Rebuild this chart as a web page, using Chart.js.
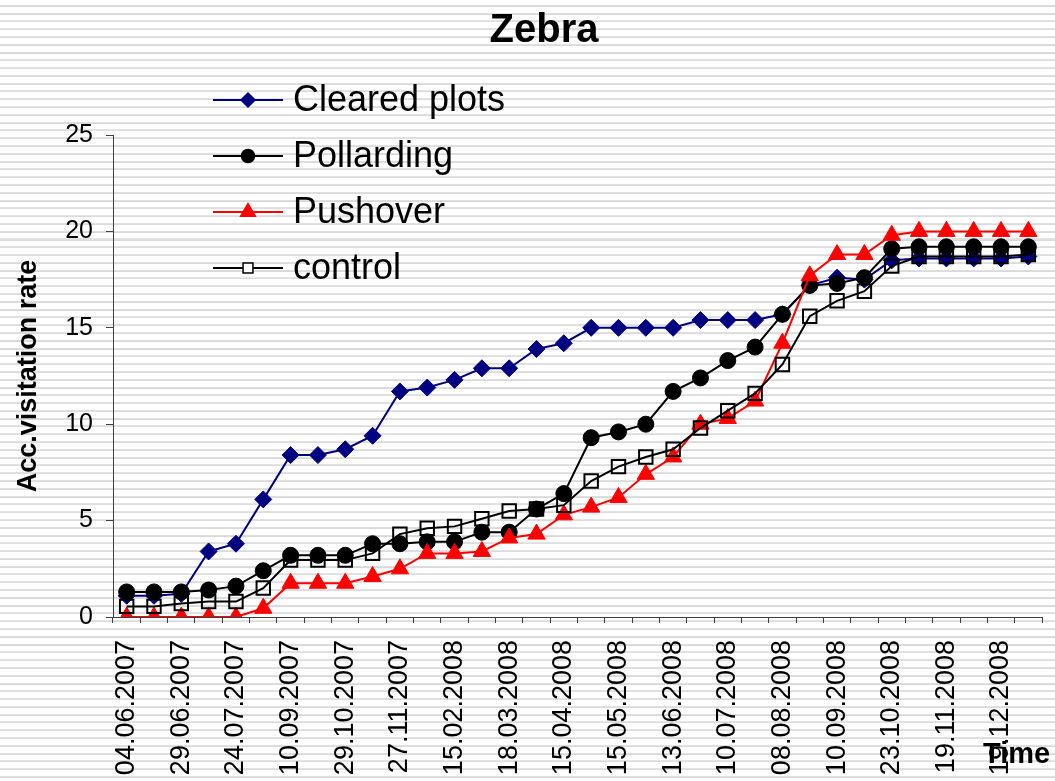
<!DOCTYPE html>
<html>
<head>
<meta charset="utf-8">
<title>Zebra</title>
<script src="https://cdn.jsdelivr.net/npm/chart.js@4/dist/chart.umd.min.js"></script>
<style>
  html, body {
    margin: 0;
    padding: 0;
  }
  body {
    width: 1055px;
    height: 781px;
    overflow: hidden;
    /* striped page background, like the source image */
    background: repeating-linear-gradient(180deg,
      #ffffff 0px, #ffffff 4.8px,
      #e4e4e4 4.8px, #d8d8d8 6.8px,
      #ffffff 6.8px, #ffffff 7.79px);
  }
  #wrap {
    position: relative;
    width: 1055px;
    height: 781px;
  }
</style>
</head>
<body>
<div id="wrap"><canvas id="chart"></canvas></div>
<script>
// Tick labels shown under every other sampling date
const tickDates = [
  '04.06.2007', '29.06.2007', '24.07.2007', '10.09.2007', '29.10.2007',
  '27.11.2007', '15.02.2008', '18.03.2008', '15.04.2008', '15.05.2008',
  '13.06.2008', '10.07.2008', '08.08.2008', '10.09.2008', '23.10.2008',
  '19.11.2008', '19.12.2008'
];
// 34 sampling dates, only every second one is labelled
const categories = tickDates.flatMap(d => [d, '']);

const clearedPlots = [1.1, 1.1, 1.2, 3.4, 3.8, 6.1, 8.4, 8.4, 8.7, 9.4,
  11.7, 11.9, 12.3, 12.9, 12.9, 13.9, 14.2, 15.0, 15.0, 15.0,
  15.0, 15.4, 15.4, 15.4, 15.7, 17.2, 17.6, 17.5, 18.5, 18.6,
  18.6, 18.6, 18.6, 18.7];

const pollarding = [1.3, 1.3, 1.3, 1.4, 1.6, 2.4, 3.2, 3.2, 3.2, 3.8,
  3.8, 3.9, 3.9, 4.4, 4.4, 5.6, 6.4, 9.3, 9.6, 10.0,
  11.7, 12.4, 13.3, 14.0, 15.7, 17.2, 17.3, 17.6, 19.1, 19.2,
  19.2, 19.2, 19.2, 19.2];

const pushover = [0, 0, 0, 0, 0, 0.45, 1.75, 1.75, 1.75, 2.1,
  2.5, 3.3, 3.3, 3.4, 4.1, 4.3, 5.3, 5.7, 6.2, 7.4,
  8.3, 10.0, 10.3, 11.2, 14.2, 17.7, 18.8, 18.8, 19.8, 20.0,
  20.0, 20.0, 20.0, 20.0];

const control = [0.55, 0.55, 0.7, 0.8, 0.8, 1.5, 2.95, 2.95, 2.95, 3.3,
  4.3, 4.6, 4.7, 5.1, 5.5, 5.6, 5.8, 7.05, 7.8, 8.3,
  8.7, 9.8, 10.7, 11.6, 13.1, 15.6, 16.4, 16.9, 18.2, 18.7,
  18.7, 18.7, 18.7, 18.8];

const yTicks = [0, 5, 10, 15, 20, 25];

const FONT = "'Liberation Sans', Arial, Helvetica, sans-serif";

/**
 * Draw a single marker shape (used for the legend)
 */
function drawMarker(ctx, style, x, y, r, fill, stroke, lw) {
  ctx.save();
  ctx.beginPath();
  if (style === 'rectRot') {
    ctx.moveTo(x, y - r);
    ctx.lineTo(x + r, y);
    ctx.lineTo(x, y + r);
    ctx.lineTo(x - r, y);
    ctx.closePath();
  } else if (style === 'circle') {
    ctx.arc(x, y, r, 0, Math.PI * 2);
  } else if (style === 'triangle') {
    ctx.moveTo(x, y - r);
    ctx.lineTo(x + r * 0.866, y + r * 0.5);
    ctx.lineTo(x - r * 0.866, y + r * 0.5);
    ctx.closePath();
  } else {
    const s = r * Math.SQRT1_2;
    ctx.rect(x - s, y - s, 2 * s, 2 * s);
  }
  ctx.fillStyle = fill;
  ctx.fill();
  ctx.lineWidth = lw;
  ctx.strokeStyle = stroke;
  ctx.stroke();
  ctx.restore();
}

// Title, "Time" label and the in-plot legend
const decorPlugin = {
  id: 'decor',
  afterDraw(chart) {
    const ctx = chart.ctx;
    ctx.save();
    ctx.fillStyle = '#000';
    ctx.textBaseline = 'alphabetic';

    ctx.font = 'bold 40px ' + FONT;
    ctx.textAlign = 'center';
    ctx.fillText('Zebra', 544, 42);

    ctx.font = 'bold 29px ' + FONT;
    ctx.textAlign = 'left';
    ctx.fillText('Time', 983, 763);

    // legend
    const rows = [100, 156, 212, 268];
    const sizes = [7, 6.5, 8.5, 7];
    ctx.font = '36px ' + FONT;
    ctx.textBaseline = 'middle';
    chart.data.datasets.forEach((ds, i) => {
      const y = rows[i];
      ctx.beginPath();
      ctx.moveTo(213, y);
      ctx.lineTo(283, y);
      ctx.lineWidth = 2;
      ctx.strokeStyle = ds.borderColor;
      ctx.stroke();
      drawMarker(ctx, ds.pointStyle, 248, y, sizes[i],
        ds.pointBackgroundColor === 'rgba(0,0,0,0)' ? '#ffffff' : ds.pointBackgroundColor,
        ds.pointBorderColor, 1.5);
      ctx.fillStyle = '#000';
      ctx.fillText(ds.label, 293, y + 1);
    });
    ctx.restore();
  }
};

const ctx = document.getElementById('chart').getContext('2d');
new Chart(ctx, {
  type: 'line',
  data: {
    labels: categories,
    datasets: [
      {
        label: 'Cleared plots',
        data: clearedPlots,
        borderColor: '#000080',
        borderWidth: 2,
        pointStyle: 'rectRot',
        pointRadius: 8.5,
        pointBackgroundColor: '#000080',
        pointBorderColor: '#000080',
        pointBorderWidth: 1,
        order: 4
      },
      {
        label: 'Pollarding',
        data: pollarding,
        borderColor: '#000000',
        borderWidth: 2,
        pointStyle: 'circle',
        pointRadius: 8,
        pointBackgroundColor: '#000000',
        pointBorderColor: '#000000',
        pointBorderWidth: 1,
        order: 3
      },
      {
        label: 'Pushover',
        data: pushover,
        borderColor: '#ff0000',
        borderWidth: 2,
        pointStyle: 'triangle',
        pointRadius: 10,
        pointBackgroundColor: '#ff0000',
        pointBorderColor: '#ff0000',
        pointBorderWidth: 1,
        order: 2
      },
      {
        label: 'control',
        data: control,
        borderColor: '#000000',
        borderWidth: 2,
        pointStyle: 'rect',
        pointRadius: 9.5,
        pointBackgroundColor: 'rgba(0,0,0,0)',
        pointBorderColor: '#000000',
        pointBorderWidth: 2,
        order: 1
      }
    ]
  },
  options: {
    responsive: true,
    maintainAspectRatio: false,
    animation: false,
    layout: {
      padding: { top: 135, right: 13, left: 0, bottom: 0 }
    },
    elements: {
      line: { tension: 0 }
    },
    plugins: {
      legend: { display: false },
      title: { display: false },
      tooltip: { enabled: false }
    },
    scales: {
      x: {
        type: 'category',
        offset: true,
        grid: {
          offset: true,
          drawOnChartArea: false,
          drawTicks: true,
          tickLength: 6,
          color: '#404040'
        },
        border: { color: '#404040', width: 1 },
        ticks: {
          autoSkip: false,
          maxRotation: 90,
          minRotation: 90,
          padding: 17,
          color: '#000',
          font: { family: FONT, size: 27 }
        },
        afterFit(scale) {
          scale.height = 164;
          // no extra side padding for the rotated labels
          scale.paddingLeft = 0;
          scale.paddingRight = 0;
        }
      },
      y: {
        min: 0,
        max: 25,
        afterBuildTicks(scale) {
          scale.ticks = yTicks.map(v => ({ value: v }));
        },
        grid: {
          drawOnChartArea: false,
          drawTicks: true,
          tickLength: 7,
          color: '#404040'
        },
        border: { color: '#404040', width: 1 },
        ticks: {
          padding: 13,
          color: '#000',
          font: { family: FONT, size: 25 }
        },
        title: {
          display: true,
          text: 'Acc.visitation rate',
          color: '#000',
          padding: { top: 12, bottom: 0 },
          font: { family: FONT, size: 27, weight: 'bold' }
        },
        afterFit(scale) {
          scale.width = 113;
        }
      }
    }
  },
  plugins: [decorPlugin]
});
</script>
</body>
</html>
